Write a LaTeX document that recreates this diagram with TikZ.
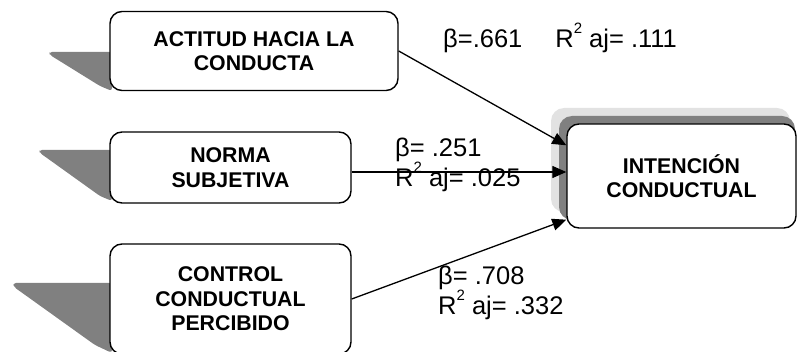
\documentclass[tikz,border=0pt]{standalone}
\usepackage{fontspec}
\setmainfont{Liberation Sans}
\usetikzlibrary{arrows.meta,calc}
\definecolor{shadowdark}{RGB}{128,128,128}
\definecolor{shadowlight}{RGB}{226,226,226}
\tikzset{
  boxnode/.style={draw=black, line width=1.4pt, fill=white, rounded corners=12pt,
    align=center, font=\fontsize{21.3}{24.5}\selectfont\bfseries, inner sep=0pt},
  shadowpoly/.style={fill=shadowdark, draw=none, rounded corners=3pt},
  conn/.style={draw=black, line width=1.3pt, -{Triangle[length=14pt,width=12pt]}},
  lbl/.style={font=\fontsize{25.5}{30}\selectfont, inner sep=0pt, anchor=base west, align=left}
}
\newcommand{\sqr}{\raisebox{0.55em}{\fontsize{15}{15}\selectfont 2}}
\begin{document}
\begin{tikzpicture}[x=1pt,y=-1pt]
\useasboundingbox (0,0) rectangle (797,352);
% shadows of left boxes
\fill[shadowpoly] (112,52) -- (49,52) -- (50,55) -- (100,86) -- (112,91) -- cycle;
\fill[shadowpoly] (112,150) -- (39,150) -- (40,153) -- (100,196) -- (112,201) -- cycle;
\fill[shadowpoly] (112,283) -- (13,283) -- (14,287) -- (95,345) -- (112,353) -- cycle;
% shadows of right box
\fill[shadowlight, rounded corners=13pt] (551,108) rectangle (790,212);
\fill[shadowdark, rounded corners=13pt] (559,116) rectangle (795,220);
% boxes
\node[boxnode, minimum width=288pt, minimum height=79pt] (b1) at (254,51) {ACTITUD HACIA LA\\CONDUCTA};
\node[boxnode, minimum width=241pt, minimum height=71pt] (b2) at (230.5,167.5) {NORMA\\SUBJETIVA};
\node[boxnode, minimum width=241pt, minimum height=110pt] (b3) at (230.5,299) {CONTROL\\CONDUCTUAL\\PERCIBIDO};
\node[boxnode, minimum width=229pt, minimum height=104pt] (b4) at (681.5,176) {INTENCIÓN\\CONDUCTUAL};
% connector end points on b4
\coordinate (e1) at ($(b4.north west)+(0,22)$);
\coordinate (s2) at ($(b2.east)+(0,4.5)$);
\coordinate (e2) at (b4.west |- s2);
\coordinate (s3) at (b3.east);
\coordinate (e3) at ($(b4.south west)+(0,-9)$);
\draw[conn] (b1.east) -- (e1);
\draw[conn] (s2) -- (e2);
\draw[conn] (s3) -- (e3);
% labels
\node[lbl] (l1) at (443,48) {β=.661\hspace{33pt}R\sqr{} aj= .111};
\node[lbl] (l2) at (395,187) {β= .251\\R\sqr{} aj= .025};
\node[lbl] (l3) at (438,315) {β= .708\\R\sqr{} aj= .332};
\end{tikzpicture}
\end{document}
